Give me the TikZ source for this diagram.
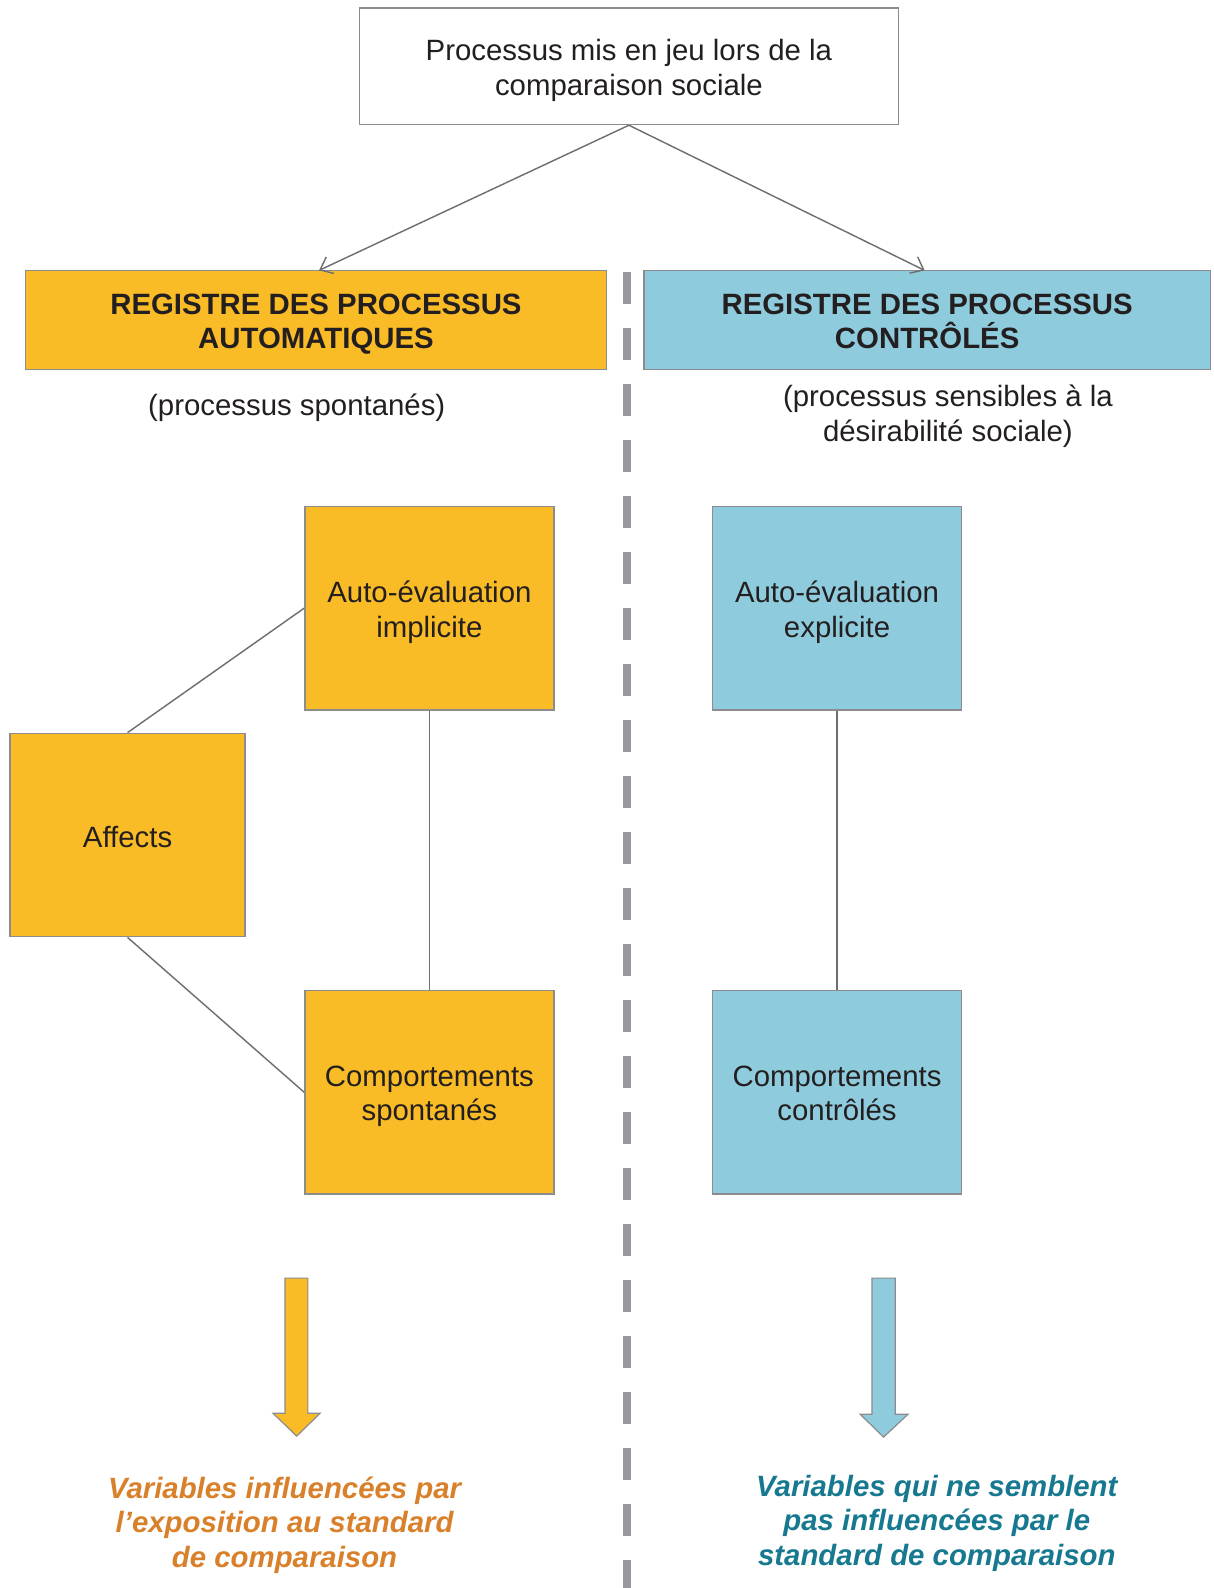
\documentclass[tikz,border=0pt]{standalone}
\usepackage{fontspec}
\setmainfont{Liberation Sans}
\usetikzlibrary{arrows.meta}
\definecolor{orfill}{HTML}{F9BC27}
\definecolor{blfill}{HTML}{8ECBDC}
\definecolor{edgegray}{HTML}{8C8C8E}
\definecolor{linegray}{HTML}{6D6E71}
\definecolor{dashgray}{HTML}{97989B}
\definecolor{txtdark}{HTML}{231F20}
\definecolor{ortxt}{HTML}{D9802B}
\definecolor{bltxt}{HTML}{17798F}
\tikzset{
  base/.style={font=\fontsize{29}{34}\selectfont, text=txtdark, align=center, inner sep=0pt},
  box/.style={base, draw=edgegray, line width=1.3pt, minimum width=#1},
  orbox/.style={box=246pt, fill=orfill, minimum height=201pt},
  blbox/.style={box=246pt, fill=blfill, minimum height=201pt},
  txt/.style={label={[base, yshift=-4pt]center:#1}},
  txtacc/.style={label={[base, yshift=-1.2pt]center:#1}},
  btxt/.style={label={[base, font=\fontsize{29}{34}\selectfont\bfseries, yshift=-4pt]center:#1}},
  btxtacc/.style={label={[base, font=\fontsize{29}{34}\selectfont\bfseries, yshift=-1.5pt]center:#1}},
  conn/.style={draw=linegray, line width=1.4pt},
  arr/.style={conn, -{Straight Barb[length=11pt,width=18pt,line width=1.4pt]}},
  header/.style={base, draw=edgegray, line width=1.3pt, minimum height=98pt},
  blockarr/.style={draw=edgegray, line width=1.2pt},
  note/.style={base, font=\fontsize{29}{34}\selectfont\bfseries\itshape},
}
\begin{document}
\begin{tikzpicture}[x=1pt, y=-1pt]
\useasboundingbox (0,0) rectangle (1198,1568);
\fill[white] (0,0) rectangle (1198,1568);

% dashed separator
\draw[dashgray, line width=7.9pt, dash pattern=on 31.6pt off 23.7pt] (619.5,268.6) -- (619.5,1568);

% top box
\node[box=532pt, fill=white, minimum height=115pt, txt={Processus mis en jeu lors de la\\comparaison sociale}] (top) at (621,65.5) {};

% headers
\node[header, fill=orfill, minimum width=574pt, btxt={REGISTRE DES PROCESSUS\\AUTOMATIQUES}] (hauto) at (312,316) {};
\node[header, fill=blfill, minimum width=559pt, btxtacc={REGISTRE DES PROCESSUS\\CONTRÔLÉS}] (hctrl) at (915.5,316) {};

\coordinate (tl) at (315,267);
\coordinate (tr) at (913,267);
\draw[arr] (top.south) -- (tl);
\draw[arr] (top.south) -- (tr);

% subtitles
\node[base] (sauto) at (293,403) {(processus spontanés)};
\node[base] (sctrl) at (936,411) {(processus sensibles à la\\désirabilité sociale)};

% boxes
\node[orbox, txt={Auto-évaluation\\implicite}] (impl) at (424,600.5) {};
\node[orbox, minimum width=232pt, label={[base, yshift=-1.5pt]center:Affects}] (aff) at (126,824.5) {};
\node[orbox, txt={Comportements\\spontanés}] (spont) at (424,1078.5) {};
\node[blbox, txt={Auto-évaluation\\explicite}] (expl) at (826.5,600.5) {};
\node[blbox, txtacc={Comportements\\contrôlés}] (ctrl) at (826.5,1078.5) {};

% connectors
\draw[conn] (aff.north) -- (impl.west);
\draw[conn] (aff.south) -- (spont.west);
\draw[conn] (impl.south) -- (spont.north);
\draw[conn] (expl.south) -- (ctrl.north);

% block arrows
\draw[blockarr, fill=orfill] (281.5,1262) -- (304,1262) -- (304,1395.5) -- (316,1395.5) -- (293,1418) -- (269.6,1395.5) -- (281.5,1395.5) -- cycle;
\draw[blockarr, fill=blfill] (861,1262) -- (884,1262) -- (884,1396.5) -- (896.5,1396.5) -- (872.4,1419) -- (849.4,1396.5) -- (861,1396.5) -- cycle;

% notes
\node[note, text=ortxt] (nauto) at (281,1506) {Variables influencées par\\l’exposition au standard\\de comparaison};
\node[note, text=bltxt] (nctrl) at (925,1504) {Variables qui ne semblent\\pas influencées par le\\standard de comparaison};
\end{tikzpicture}
\end{document}
